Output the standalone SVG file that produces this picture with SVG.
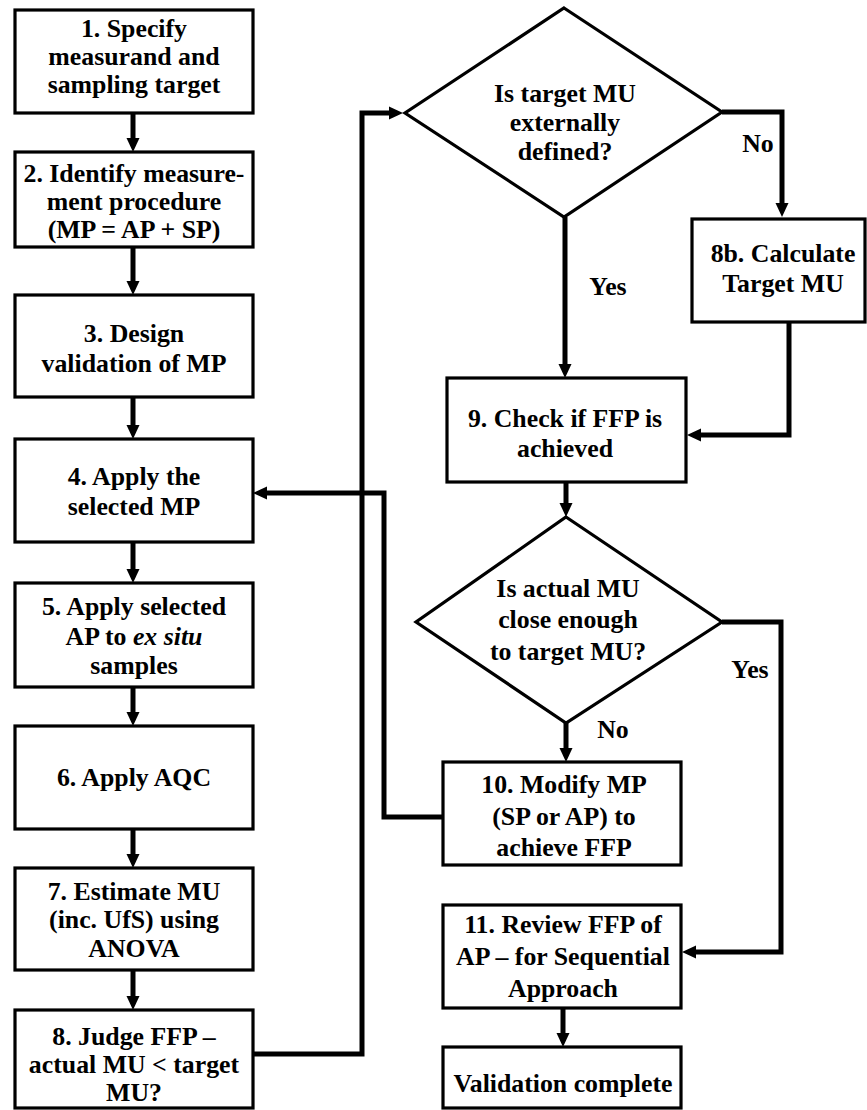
<svg xmlns="http://www.w3.org/2000/svg" width="867" height="1110" viewBox="0 0 867 1110">
<style>
.box{fill:#fff;stroke:#000;stroke-width:3.2}
.t{font-family:'Liberation Serif','Tinos','DejaVu Serif',serif;font-weight:700;font-size:25.8px;text-anchor:middle;fill:#000}
.c{fill:none;stroke:#000;stroke-width:5;stroke-linejoin:miter}
.a{marker-end:url(#ah)}
</style>
<defs>
<marker id="ah" markerUnits="userSpaceOnUse" markerWidth="16" markerHeight="14" refX="4" refY="7" orient="auto">
<path d="M0,0.5 L14,7 L0,13.5 z" fill="#000"/>
</marker>
</defs>
<rect width="867" height="1110" fill="#fff"/>

<g id="connectors">
<path class="c a" d="M133,113 V142"/>
<path class="c a" d="M133,247 V285"/>
<path class="c a" d="M133,397 V429"/>
<path class="c a" d="M133,542 V573"/>
<path class="c a" d="M133,687 V716"/>
<path class="c a" d="M133,829 V858"/>
<path class="c a" d="M133,970 V1000"/>
<path class="c a" d="M253,1054 H362 V113 H393"/>
<path class="c a" d="M722,112 H782 V207"/>
<path class="c a" d="M565,217 V368"/>
<path class="c a" d="M789,322 V435 H697"/>
<path class="c a" d="M566,482 V507"/>
<path class="c a" d="M566,723 V752"/>
<path class="c a" d="M722,622 H781 V952 H692"/>
<path class="c a" d="M443,817 H384 V493 H263"/>
<path class="c a" d="M563,1008 V1037"/>
</g>

<g id="n1"><rect class="box" x="15" y="10" width="238" height="103"/>
<text class="t" x="134" y="37">1. Specify</text>
<text class="t" x="134" y="65">measurand and</text>
<text class="t" x="134" y="93">sampling target</text></g>

<g id="n2"><rect class="box" x="15" y="152" width="238" height="95"/>
<text class="t" x="134" y="182">2. Identify measure-</text>
<text class="t" x="134" y="210">ment procedure</text>
<text class="t" x="134" y="238">(MP = AP + SP)</text></g>

<g id="n3"><rect class="box" x="15" y="295" width="238" height="102"/>
<text class="t" x="134" y="342">3. Design</text>
<text class="t" x="134" y="372">validation of MP</text></g>

<g id="n4"><rect class="box" x="15" y="439" width="238" height="103"/>
<text class="t" x="134" y="485">4. Apply the</text>
<text class="t" x="134" y="515">selected MP</text></g>

<g id="n5"><rect class="box" x="15" y="583" width="238" height="104"/>
<text class="t" x="134" y="615">5. Apply selected</text>
<text class="t" x="134" y="645">AP to <tspan font-style="italic">ex situ</tspan></text>
<text class="t" x="134" y="674">samples</text></g>

<g id="n6"><rect class="box" x="15" y="726" width="238" height="103"/>
<text class="t" x="134" y="786">6. Apply AQC</text></g>

<g id="n7"><rect class="box" x="15" y="868" width="238" height="102"/>
<text class="t" x="134" y="900">7. Estimate MU</text>
<text class="t" x="134" y="928">(inc. UfS) using</text>
<text class="t" x="134" y="957">ANOVA</text></g>

<g id="n8"><rect class="box" x="15" y="1010" width="238" height="98"/>
<text class="t" x="134" y="1045">8. Judge FFP –</text>
<text class="t" x="134" y="1073">actual MU &lt; target</text>
<text class="t" x="134" y="1101">MU?</text></g>

<g id="d1"><polygon class="box" points="564,8 722,112 564,217 405,113"/>
<text class="t" x="565" y="102">Is target MU</text>
<text class="t" x="565" y="131">externally</text>
<text class="t" x="565" y="160">defined?</text></g>

<g id="n8b"><rect class="box" x="692" y="219" width="173" height="103"/>
<text class="t" x="783" y="262">8b. Calculate</text>
<text class="t" x="783" y="292">Target MU</text></g>

<g id="n9"><rect class="box" x="447" y="378" width="239" height="104"/>
<text class="t" x="565" y="427">9. Check if FFP is</text>
<text class="t" x="565" y="457">achieved</text></g>

<g id="d2"><polygon class="box" points="566,517 722,622 566,723 416,622"/>
<text class="t" x="568" y="597">Is actual MU</text>
<text class="t" x="568" y="628">close enough</text>
<text class="t" x="568" y="660">to target MU?</text></g>

<g id="n10"><rect class="box" x="443" y="762" width="238" height="103"/>
<text class="t" x="564" y="793">10. Modify MP</text>
<text class="t" x="564" y="825">(SP or AP) to</text>
<text class="t" x="564" y="856">achieve FFP</text></g>

<g id="n11"><rect class="box" x="443" y="905" width="238" height="103"/>
<text class="t" x="563" y="933">11. Review FFP of</text>
<text class="t" x="563" y="965">AP – for Sequential</text>
<text class="t" x="563" y="997">Approach</text></g>

<g id="n12"><rect class="box" x="443" y="1047" width="238" height="61"/>
<text class="t" x="563" y="1092">Validation complete</text></g>

<g id="labels">
<text class="t" x="758" y="152">No</text>
<text class="t" x="608" y="295">Yes</text>
<text class="t" x="750" y="678">Yes</text>
<text class="t" x="613" y="738">No</text>
</g>
</svg>
